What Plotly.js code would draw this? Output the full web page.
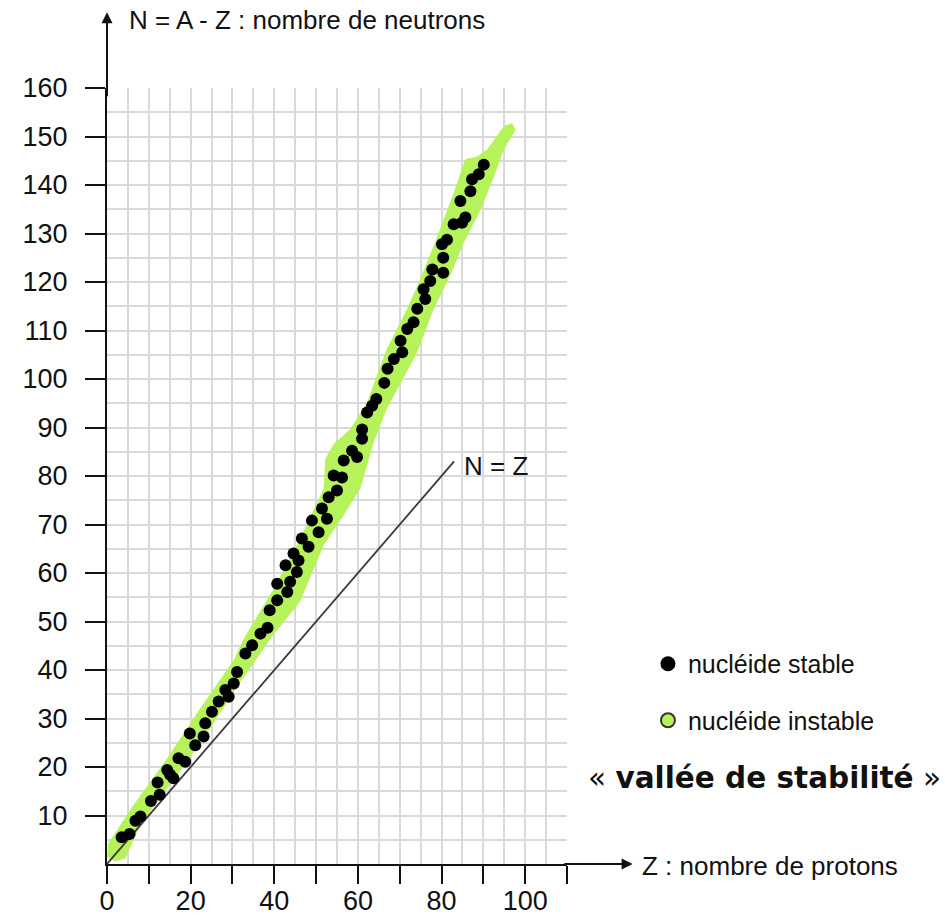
<!DOCTYPE html>
<html>
<head>
<meta charset="utf-8">
<script src="https://cdn.plot.ly/plotly-3.0.1.min.js"></script>
<style>html,body{margin:0;padding:0;background:#fff;}#chart{width:945px;height:921px;}</style>
</head>
<body>
<div id="chart"></div>
<script>
// Stable nuclides (Z protons, N neutrons)
const stableZ = [3.5, 5.4, 6.8, 8.0, 10.5, 12.1, 12.6, 14.4, 15.1, 15.9, 17.1, 18.7, 19.8, 21.1, 23.1, 23.5, 25.1, 26.7, 28.3, 29.1, 30.3, 31.1, 33.1, 34.7, 36.7, 38.4, 38.9, 40.7, 40.7, 43.1, 42.7, 43.8, 44.6, 45.4, 45.8, 46.6, 48.2, 49.0, 50.6, 51.4, 52.6, 53.0, 55.0, 54.2, 56.2, 56.6, 58.6, 59.8, 61.0, 61.0, 62.2, 63.4, 64.4, 66.3, 67.1, 68.6, 70.6, 70.2, 71.8, 73.3, 74.2, 76.1, 75.7, 77.3, 77.8, 80.4, 80.4, 80.1, 81.3, 82.9, 84.9, 84.5, 85.7, 86.9, 87.3, 88.9, 90.1];
const stableN = [5.5, 6.2, 8.9, 9.8, 13.0, 16.8, 14.3, 19.4, 18.4, 17.7, 21.8, 21.1, 26.9, 24.5, 26.3, 29.0, 31.4, 33.5, 35.9, 34.5, 37.2, 39.6, 43.4, 45.1, 47.5, 48.7, 52.3, 54.4, 57.8, 56.1, 61.6, 58.2, 64.0, 60.2, 62.6, 67.1, 65.4, 70.8, 68.4, 73.3, 71.2, 75.6, 77.0, 80.1, 79.7, 83.2, 85.2, 83.9, 87.7, 89.6, 93.1, 94.5, 95.9, 99.2, 102.1, 104.1, 105.5, 107.9, 110.3, 111.7, 114.5, 116.5, 118.5, 120.2, 122.6, 121.9, 125.0, 127.8, 128.7, 131.9, 132.2, 136.7, 133.3, 138.7, 141.2, 142.2, 144.2];

// Outline of the "vallée de stabilité" band (unstable nuclides)
const bandZ = [0, 0.3, 6.4, 14.4, 22.3, 30.3, 32.7, 39.9, 46.2, 51.8, 52.2, 54.2, 58.2, 62.2, 66.9, 71.7, 74.2, 78.1, 82.9, 85.7, 88.5, 90.9, 94.9, 96.9, 97.7,
               94.9, 92.5, 89.3, 85.3, 82.1, 78.1, 74.2, 66.9, 63.8, 62.2, 60.6, 56.6, 51.8, 46.2, 39.1, 35.9, 31.9, 24.7, 19.1, 8.0, 4.4, 2.0];
const bandN = [1.5, 4.3, 12.2, 21.8, 32.1, 42.0, 46.5, 56.8, 67.1, 77.4, 83.5, 86.6, 89.7, 95.2, 106.2, 114.4, 119.2, 127.4, 138.4, 145.3, 145.9, 147.3, 152.1, 152.8, 151.4,
               147.3, 141.6, 134.8, 128.1, 121.3, 114.4, 105.5, 93.8, 87.0, 82.2, 77.4, 71.9, 65.7, 54.1, 46.5, 42.4, 37.6, 28.0, 21.1, 8.1, 1.2, 0.5];

// N = Z reference line
const lineZ = [0, 83];
const lineN = [0, 83];

// Ticks
const xTickVals = [0, 10, 20, 30, 40, 50, 60, 70, 80, 90, 100, 110];
const xTickText = ['0', '', '20', '', '40', '', '60', '', '80', '', '100', ''];
const yTickVals = [10, 20, 30, 40, 50, 60, 70, 80, 90, 100, 110, 120, 130, 140, 150, 160];
const yTickText = ['10', '20', '30', '40', '50', '60', '70', '80', '90', '100', '110', '120', '130', '140', '150', '160'];

const F = 'Liberation Sans, Arial, sans-serif';
const GREEN = '#b6f35a';
const GRID = '#d9d9d9';

const traces = [
  {x: bandZ, y: bandN, type: 'scatter', mode: 'lines', fill: 'toself', fillcolor: GREEN,
   line: {width: 0, color: GREEN}, showlegend: false, hoverinfo: 'skip'},
  {x: lineZ, y: lineN, type: 'scatter', mode: 'lines', line: {color: '#3a3a3a', width: 1.8},
   showlegend: false, hoverinfo: 'skip'},
  {x: stableZ, y: stableN, type: 'scatter', mode: 'markers', name: 'nucléide stable',
   marker: {color: '#000', size: 12}, showlegend: false, cliponaxis: false},
  {x: [null], y: [null], type: 'scatter', mode: 'markers', name: 'nucléide stable',
   marker: {color: '#000', size: 15}, legendgroup: 'a'},
  {x: [null], y: [null], type: 'scatter', mode: 'markers', name: 'nucléide instable',
   marker: {color: GREEN, size: 14, line: {color: '#333', width: 2}}, legendgroup: 'b'}
];

const layout = {
  width: 945, height: 921, autosize: false,
  margin: {l: 107, r: 378, t: 88, b: 57},
  paper_bgcolor: '#fff', plot_bgcolor: '#fff',
  font: {family: F, color: '#111'},
  xaxis: {
    range: [0, 110], tickmode: 'array', tickvals: xTickVals, ticktext: xTickText,
    ticks: 'outside', ticklen: 18, tickwidth: 2, tickcolor: '#111',
    showline: true, linecolor: '#111', linewidth: 2,
    showgrid: true, gridcolor: GRID, gridwidth: 2, zeroline: false,
    minor: {tickmode: 'linear', tick0: 0, dtick: 5, showgrid: true, gridcolor: GRID, gridwidth: 2, ticks: ''},
    tickfont: {family: F, size: 27, color: '#111'}, ticklabelstandoff: -6, fixedrange: true
  },
  yaxis: {
    range: [0, 160], tickmode: 'array', tickvals: yTickVals, ticktext: yTickText,
    ticks: 'outside', ticklen: 20, tickwidth: 2, tickcolor: '#111',
    showline: true, linecolor: '#111', linewidth: 2,
    showgrid: true, gridcolor: GRID, gridwidth: 2, zeroline: false,
    minor: {tickmode: 'linear', tick0: 0, dtick: 5, showgrid: true, gridcolor: GRID, gridwidth: 2, ticks: ''},
    tickfont: {family: F, size: 27, color: '#111'}, ticklabelstandoff: 12, fixedrange: true
  },
  showlegend: true,
  legend: {x: 1.176, xanchor: 'left', y: 0.2874, yanchor: 'top', traceorder: 'grouped',
           tracegroupgap: 21, font: {family: F, size: 25, color: '#111'}, bgcolor: 'rgba(0,0,0,0)'},
  annotations: [
    {xref: 'x', yref: 'y', axref: 'x', ayref: 'y', x: 0, y: 175.6, ax: 0, ay: 158,
     showarrow: true, arrowhead: 2, arrowsize: 1.1, arrowwidth: 2, arrowcolor: '#111', text: ''},
    {xref: 'x', yref: 'y', axref: 'x', ayref: 'y', x: 125.7, y: 0, ax: 109, ay: 0,
     showarrow: true, arrowhead: 2, arrowsize: 1.1, arrowwidth: 2, arrowcolor: '#111', text: ''},
    {xref: 'paper', yref: 'paper', x: 0.0435, y: 1.0876, xanchor: 'left', yanchor: 'middle',
     showarrow: false, text: 'N = A - Z : nombre de neutrons', font: {family: F, size: 26, color: '#111'}},
    {xref: 'paper', yref: 'paper', x: 1.1587, y: -0.0026, xanchor: 'left', yanchor: 'middle',
     showarrow: false, text: 'Z : nombre de protons', font: {family: F, size: 26, color: '#111'}},
    {xref: 'x', yref: 'y', x: 84.9, y: 82.1, xanchor: 'left', yanchor: 'middle',
     showarrow: false, text: 'N = Z', font: {family: F, size: 26, color: '#111'}},
    {xref: 'paper', yref: 'paper', x: 1.4285, y: 0.1108, xanchor: 'center', yanchor: 'middle',
     showarrow: false, text: '« <b>vallée de stabilité</b> »', font: {family: 'DejaVu Sans, sans-serif', size: 29.5, color: '#111'}}
  ]
};

Plotly.newPlot('chart', traces, layout, {staticPlot: true, displayModeBar: false});
</script>
</body>
</html>
